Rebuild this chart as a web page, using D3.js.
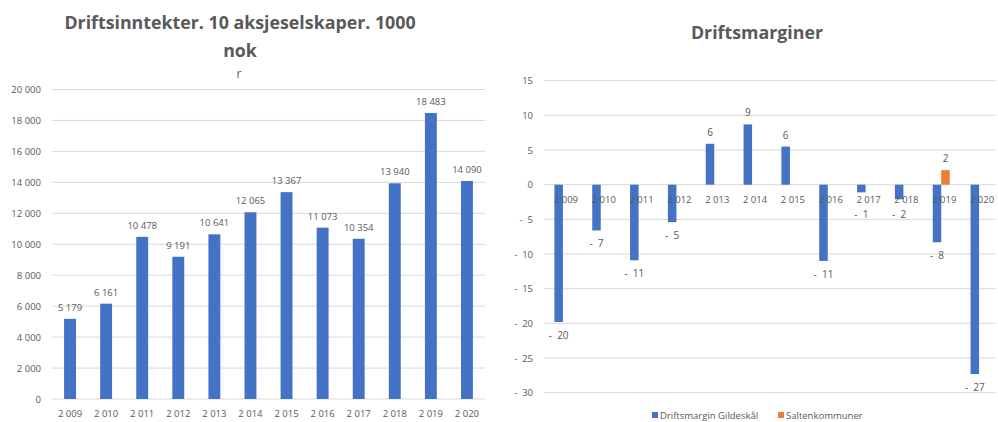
<!DOCTYPE html>
<html>
<head>
<meta charset="utf-8">
<script src="https://cdn.jsdelivr.net/npm/d3@7"></script>
<style>
  body { margin: 0; background: #fff; }
  svg { display: block; font-family: "Open Sans", sans-serif; }
  text { fill: #595959; }
</style>
</head>
<body>
<div id="chart"></div>
<script>
// Left chart data
const years = ["2 009", "2 010", "2 011", "2 012", "2 013", "2 014", "2 015", "2 016", "2 017", "2 018", "2 019", "2 020"];
const inntekter = [5179, 6161, 10478, 9191, 10641, 12065, 13367, 11073, 10354, 13940, 18483, 14090];
const leftTicks = [0, 2000, 4000, 6000, 8000, 10000, 12000, 14000, 16000, 18000, 20000];

// Right chart data
const marginGildeskal = [-19.8, -6.6, -10.9, -5.4, 5.9, 8.7, 5.5, -11.0, -1.1, -2.1, -8.3, -27.3];
const marginSalten = [null, null, null, null, null, null, null, null, null, null, 2.1, null];
const seriesNames = ["Driftsmargin Gildeskål", "Saltenkommuner"];
const seriesColors = ["#4472C4", "#ED7D31"];
const rightTicks = [-30, -25, -20, -15, -10, -5, 0, 5, 10, 15];

const blue = "#4472C4";
const grid = "#d9d9d9";
const spaceFmt = n => d3.format(",")(n).replace(/,/g, " ");

const svg = d3.select("#chart").append("svg")
    .attr("width", 998)
    .attr("height", 422);

// ---------- Left chart ----------
const left = svg.append("g");

left.append("text")
    .attr("x", 240).attr("y", 29)
    .attr("text-anchor", "middle")
    .style("font-size", "17.8px").style("font-weight", "bold")
    .text("Driftsinntekter. 10 aksjeselskaper. 1000");
left.append("text")
    .attr("x", 240).attr("y", 57)
    .attr("text-anchor", "middle")
    .style("font-size", "17.8px").style("font-weight", "bold")
    .text("nok");
left.append("text")
    .attr("x", 239).attr("y", 78)
    .attr("text-anchor", "middle")
    .style("font-size", "12px")
    .text("r");

const xL = d3.scaleBand().domain(years).range([52, 485]).paddingInner(0.67).paddingOuter(0.335);
const yL = d3.scaleLinear().domain([0, 20000]).range([399, 89.5]);

left.append("g").selectAll("line")
    .data(leftTicks)
    .enter().append("line")
    .attr("x1", 52).attr("x2", 485)
    .attr("y1", d => yL(d)).attr("y2", d => yL(d))
    .attr("stroke", grid).attr("stroke-width", 1);

left.append("g").selectAll("text")
    .data(leftTicks)
    .enter().append("text")
    .attr("x", 41).attr("y", d => yL(d) + 3.5)
    .attr("text-anchor", "end")
    .style("font-size", "9.5px")
    .text(d => spaceFmt(d));

left.append("g").selectAll("rect")
    .data(inntekter)
    .enter().append("rect")
    .attr("x", (d, i) => xL(years[i]))
    .attr("y", d => yL(d))
    .attr("width", xL.bandwidth())
    .attr("height", d => yL(0) - yL(d))
    .attr("fill", blue);

left.append("g").selectAll("text")
    .data(inntekter)
    .enter().append("text")
    .attr("x", (d, i) => xL(years[i]) + xL.bandwidth() / 2)
    .attr("y", d => yL(d) - 8)
    .attr("text-anchor", "middle")
    .style("font-size", "9.5px")
    .text(d => spaceFmt(d));

left.append("g").selectAll("text")
    .data(years)
    .enter().append("text")
    .attr("x", d => xL(d) + xL.bandwidth() / 2)
    .attr("y", 417)
    .attr("text-anchor", "middle")
    .style("font-size", "9.5px")
    .text(d => d);

// ---------- Right chart ----------
const right = svg.append("g");

right.append("text")
    .attr("x", 757).attr("y", 38.5)
    .attr("text-anchor", "middle")
    .style("font-size", "17.8px").style("font-weight", "bold")
    .text("Driftsmarginer");

const xR = d3.scaleBand().domain(years).range([544, 998]).paddingInner(0.55).paddingOuter(0.275);
const x1 = d3.scaleBand().domain(seriesNames).range([0, xR.bandwidth()]);
const yR = d3.scaleLinear().domain([-30, 15]).range([392.7, 80.7]);

right.append("g").selectAll("line")
    .data(rightTicks)
    .enter().append("line")
    .attr("x1", 544).attr("x2", 996)
    .attr("y1", d => yR(d)).attr("y2", d => yR(d))
    .attr("stroke", grid).attr("stroke-width", 1);

const negFmt = v => v < 0 ? "-\u00a0\u00a0" + Math.abs(v) : String(v);

right.append("g").selectAll("text")
    .data(rightTicks)
    .enter().append("text")
    .attr("x", 533).attr("y", d => yR(d) + 3.5)
    .attr("text-anchor", "end")
    .style("font-size", "9.5px")
    .text(d => negFmt(d));

const series = [marginGildeskal, marginSalten];
series.forEach((vals, s) => {
    const pts = vals.map((v, i) => ({ year: years[i], v })).filter(d => d.v !== null);
    right.append("g").selectAll("rect")
        .data(pts)
        .enter().append("rect")
        .attr("x", d => xR(d.year) + x1(seriesNames[s]))
        .attr("y", d => yR(Math.max(0, d.v)))
        .attr("width", x1.bandwidth())
        .attr("height", d => Math.abs(yR(d.v) - yR(0)))
        .attr("fill", seriesColors[s]);
});

// category labels drawn over the bars, just under the zero line
right.append("g").selectAll("text")
    .data(years)
    .enter().append("text")
    .attr("x", d => xR(d) + xR.bandwidth() / 2 + 3)
    .attr("y", yR(0) + 18)
    .attr("text-anchor", "middle")
    .style("font-size", "9.5px")
    .text(d => d);

// value labels; short negative bars push their label below the category label
series.forEach((vals, s) => {
    const pts = vals.map((v, i) => ({ year: years[i], v })).filter(d => d.v !== null);
    right.append("g").selectAll("text")
        .data(pts)
        .enter().append("text")
        .attr("x", d => xR(d.year) + x1(seriesNames[s]) + x1.bandwidth() / 2)
        .attr("y", d => d.v < 0 ? Math.max(yR(d.v) + 17, yR(0) + 33) : yR(d.v) - 8)
        .attr("text-anchor", "middle")
        .style("font-size", "10px")
        .text(d => negFmt(Math.round(d.v)));
});

// legend
const legend = right.append("g").attr("transform", "translate(652,417)");
const legendX = [0, 126];
seriesNames.forEach((name, i) => {
    legend.append("rect")
        .attr("x", legendX[i]).attr("y", -5)
        .attr("width", 6).attr("height", 6)
        .attr("fill", seriesColors[i]);
    legend.append("text")
        .attr("x", legendX[i] + 8).attr("y", 1.5)
        .style("font-size", "9.5px")
        .text(name);
});
</script>
</body>
</html>
